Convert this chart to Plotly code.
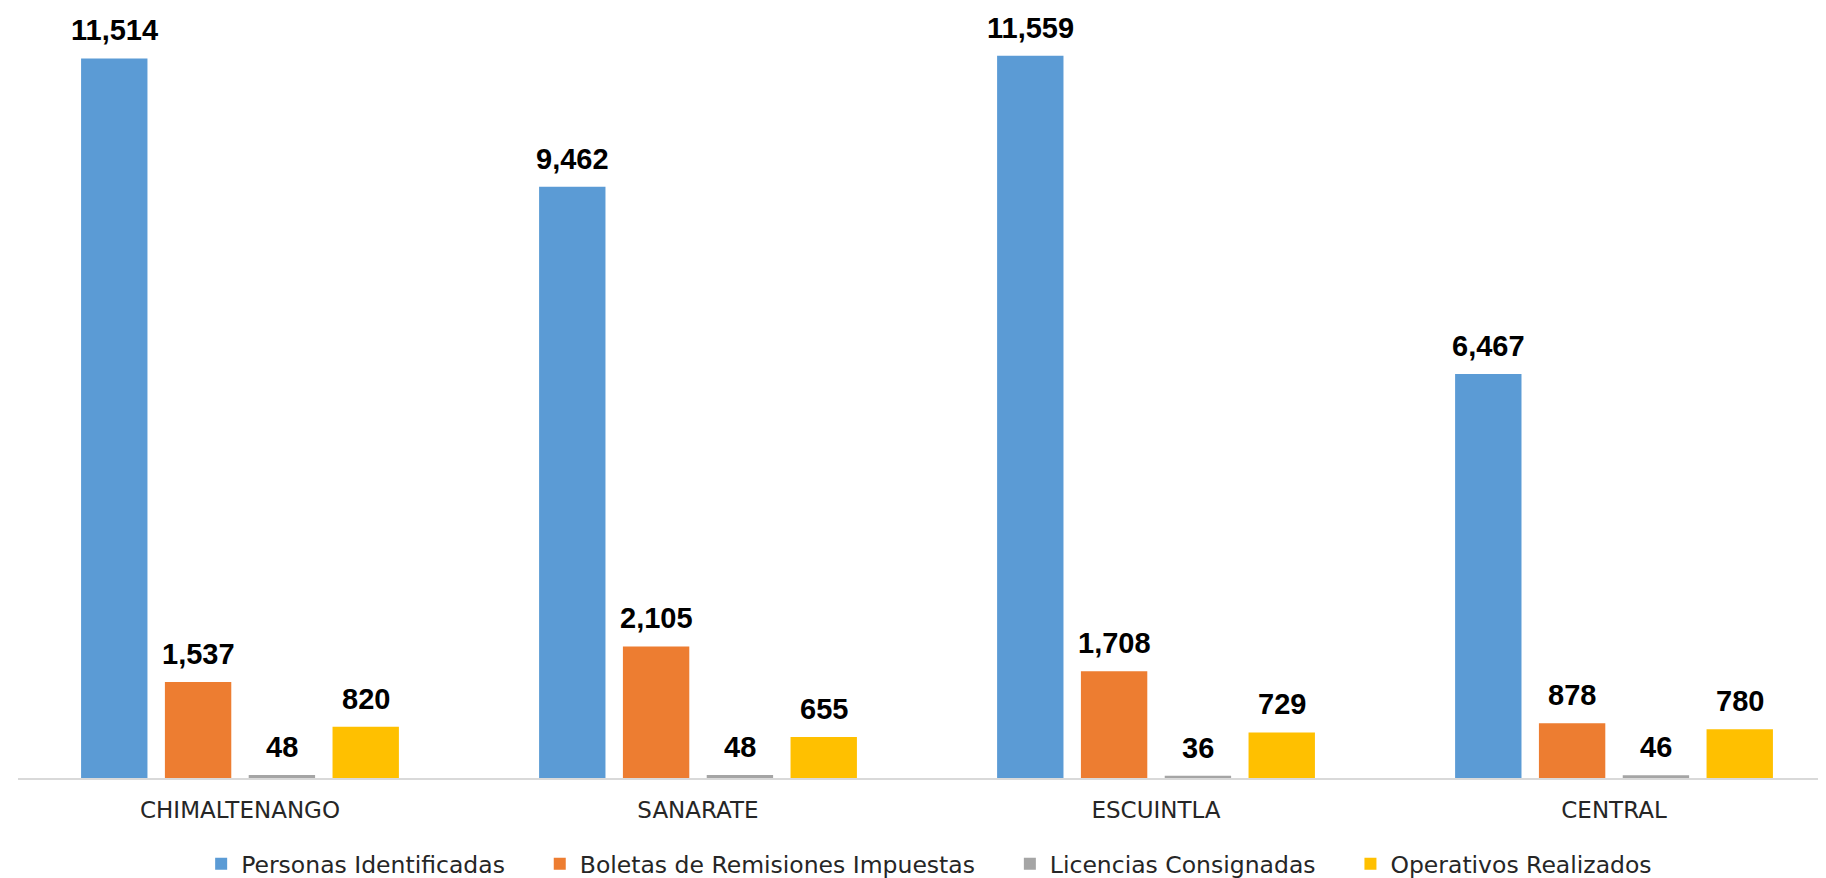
import plotly.graph_objects as go

categories = ["CHIMALTENANGO", "SANARATE", "ESCUINTLA", "CENTRAL"]
series_names = ["Personas Identificadas", "Boletas de Remisiones Impuestas",
                "Licencias Consignadas", "Operativos Realizados"]
personas = [11514, 9462, 11559, 6467]
boletas = [1537, 2105, 1708, 878]
licencias = [48, 48, 36, 46]
operativos = [820, 655, 729, 780]
colors = ["#5B9BD5", "#ED7D31", "#A5A5A5", "#FFC000"]

series_values = [personas, boletas, licencias, operativos]
bargap = 0.268
bargroupgap = 0.208
x_idx = list(range(len(categories)))
pad = "\u00a0" * 4

fig = go.Figure()
annotations = []
n = len(series_values)
slot = (1 - bargap) / n
for k, (name, vals, col) in enumerate(zip(series_names, series_values, colors)):
    fig.add_trace(go.Bar(x=x_idx, y=vals, name=name + pad, marker=dict(color=col, line=dict(width=0)),
                         hoverinfo="y"))
    for i, v in enumerate(vals):
        xc = i - (1 - bargap) / 2 + (k + 0.5) * slot
        annotations.append(dict(x=xc, y=v, xref="x", yref="y", text=f"<b>{v:,}</b>",
                                showarrow=False, yanchor="bottom", yshift=10,
                                font=dict(family="Liberation Sans, Arial, sans-serif", size=29, color="#000000")))

fig.update_layout(
    barmode="group",
    bargap=bargap,
    bargroupgap=bargroupgap,
    width=1826, height=878,
    margin=dict(l=10, r=0, t=12, b=103),
    plot_bgcolor="white",
    paper_bgcolor="white",
    showlegend=True,
    legend=dict(orientation="h", x=0.51, xanchor="center", y=-0.085, yanchor="top",
                font=dict(family="DejaVu Sans, sans-serif", size=23.5, color="#262626"),
                itemclick=False),
    annotations=annotations,
    xaxis=dict(tickmode="array", tickvals=x_idx, ticktext=categories, range=[-0.4847, 3.4803],
               showline=True, linecolor="#D9D9D9", linewidth=2, ticks="", showgrid=False, zeroline=False,
               ticklabelstandoff=10,
               tickfont=dict(family="DejaVu Sans, sans-serif", size=23, color="#262626")),
    yaxis=dict(range=[0, 12130], visible=False, showgrid=False, zeroline=False),
)

fig.write_html("out.html")
